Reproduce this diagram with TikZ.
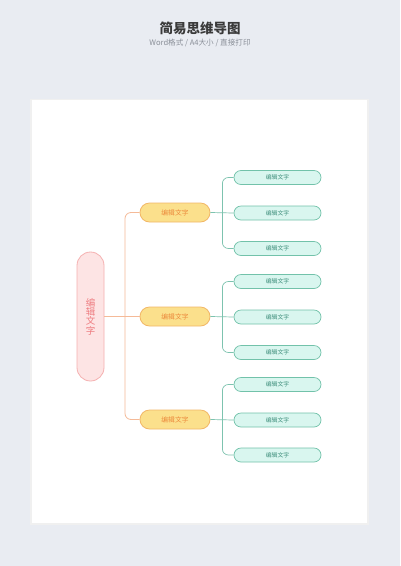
\documentclass[tikz,border=0pt]{standalone}
\usepackage{fontspec}
\setmainfont{Noto Sans CJK SC}
\usetikzlibrary{calc}
\definecolor{bgc}{HTML}{E9ECF2}
\definecolor{titlec}{HTML}{3A3A3A}
\definecolor{subc}{HTML}{8A8F98}
\definecolor{rootfill}{HTML}{FDE4E4}
\definecolor{rootdraw}{HTML}{F5B0B0}
\definecolor{roottext}{HTML}{EE7C80}
\definecolor{midfill}{HTML}{FBE08C}
\definecolor{middraw}{HTML}{F2B868}
\definecolor{midtext}{HTML}{EC8A3C}
\definecolor{midline}{HTML}{F5BA98}
\definecolor{leaffill}{HTML}{D9F6EF}
\definecolor{leafdraw}{HTML}{72C2AA}
\definecolor{leaftext}{HTML}{3F8F7C}
\definecolor{leafline}{HTML}{7DC3AF}
\tikzset{
  rootbox/.style={draw=rootdraw,fill=rootfill,line width=0.8pt,rounded corners=13.5pt,minimum width=27pt,minimum height=129pt,inner sep=0pt,text=roottext,font=\fontsize{9.5}{9.3}\selectfont,align=center},
  midbox/.style={draw=middraw,fill=midfill,line width=0.8pt,rounded corners=9.5pt,minimum width=70pt,minimum height=19pt,inner sep=0pt,text=midtext,font=\fontsize{6.8}{7}\selectfont},
  leafbox/.style={draw=leafdraw,fill=leaffill,line width=0.7pt,rounded corners=7pt,minimum width=87pt,minimum height=14pt,inner sep=0pt,text=leaftext,font=\fontsize{5.8}{6}\selectfont},
  midconn/.style={draw=midline,line width=0.8pt,rounded corners=6pt},
  leafconn/.style={draw=leafline,line width=0.7pt,rounded corners=6pt}
}
\begin{document}
\begin{tikzpicture}[x=1pt,y=-1pt]
\useasboundingbox (0,0) rectangle (400,566);
\fill[bgc] (0,0) rectangle (400,566);
\fill[black!6] (30,98.5) rectangle (369,525);
\fill[white] (32,100) rectangle (367,523);
\node[font=\fontsize{13.5}{15}\selectfont\bfseries,text=titlec] (title) at (200,28.5) {简易思维导图};
\node[font=\fontsize{7.6}{9}\selectfont,text=subc] (sub) at (200,43) {Word格式 / A4大小 / 直接打印};
\node[rootbox] (root) at (90.5,316.5) {编\\辑\\文\\字};
\foreach \i/\y in {1/212.5,2/316.5,3/419.5}{
  \node[midbox] (m\i) at (175,\y) {编辑文字};
}
\foreach \i/\y in {1/177.5,2/213,3/248.5,4/281.5,5/317,6/352.5,7/384.5,8/420,9/455}{
  \node[leafbox] (l\i) at (277.5,\y) {编辑文字};
}
\coordinate (b0) at (125,316.5);
\draw[midconn] (m1.west) -| (b0) |- (m3.west);
\draw[midconn] (root.east) -- (m2.west);
\foreach \m/\a/\b/\c in {1/1/2/3,2/4/5/6,3/7/8/9}{
  \coordinate (c\m) at ($(m\m.east)+(12,0)$);
  \draw[leafconn] (l\a.west) -| (c\m) |- (l\c.west);
  \draw[leafconn] (m\m.east) -- (l\b.west);
}
\end{tikzpicture}
\end{document}
